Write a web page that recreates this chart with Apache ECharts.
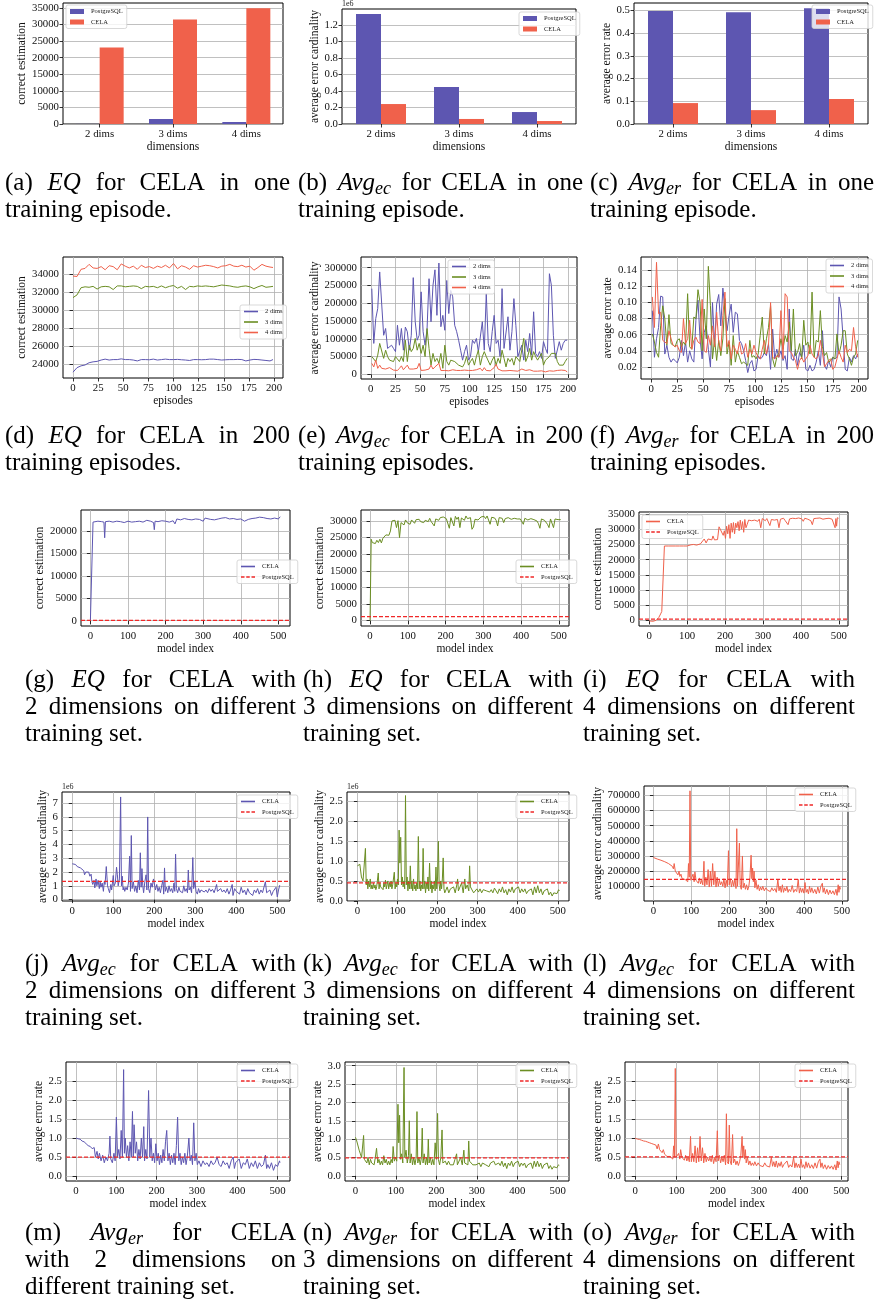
<!DOCTYPE html>
<html>
<head>
<meta charset="utf-8">
<script src="https://cdn.jsdelivr.net/npm/echarts@6/dist/echarts.min.js"></script>
<style>
  html, body { margin: 0; padding: 0; background: #fff; }
  #fig { width: 874px; height: 1301px; }
</style>
</head>
<body>
<div id="fig"></div>
<script>
// ---- data: one training episode (a-c) ----
const dims = ['2 dims', '3 dims', '4 dims'];
const eqPg = [30, 1500, 600];
const eqCela = [23100, 31500, 34900];
const ecPgM = [1.333, 0.448, 0.145];      // x 1e6
const ecCelaM = [0.242, 0.061, 0.036];    // x 1e6
const erPg = [0.497, 0.491, 0.509];
const erCela = [0.092, 0.061, 0.110];

// ---- 200 training episodes (d-f) ----
const epD = [0,4,8,12,16,20,24,28,32,36,40,44,48,52,56,60,64,68,72,76,80,84,88,92,96,100,104,108,112,116,120,124,128,132,136,140,144,148,152,156,160,164,168,172,176,180,184,188,192,196,199];
const dEq2 = [23100,23600,23800,23900,24150,24250,24300,24450,24550,24450,24500,24500,24580,24500,24500,24450,24350,24500,24500,24480,24550,24450,24500,24550,24500,24500,24520,24480,24450,24400,24500,24500,24480,24500,24550,24550,24500,24450,24480,24500,24500,24520,24500,24350,24450,24520,24500,24450,24400,24350,24500];
const dEq3 = [31400,31700,32500,32600,32550,32650,32350,32600,32650,32600,32300,32700,32700,32600,32650,32700,32650,32400,32650,32600,32650,32500,32700,32500,32650,32750,32450,32650,32300,32650,32600,32700,32650,32700,32650,32600,32700,32800,32750,32700,32600,32550,32650,32700,32600,32400,32600,32750,32550,32600,32650];
const dEq4 = [33800,33750,34550,34650,35100,34700,34650,34850,34500,34950,34850,34500,35150,34900,34700,34900,34550,35000,34750,34850,34650,34900,34750,35000,34700,35200,34600,34950,34800,34550,34950,34800,34900,35000,34950,34850,34700,34900,34950,35100,34900,34850,35000,34800,34900,34450,34750,35100,34900,34800,34750];

// episodes 1,3,5,...,199 for (e) and (f)
const epOdd = [];
for (let i = 0; i < 100; i++) epOdd.push(2 * i + 1);
const eEc2k = [241,87,157,185,288,286,110,129,73,78,82,73,64,138,82,129,68,133,120,68,110,272,148,96,110,232,120,82,129,269,148,250,294,166,313,134,166,124,264,171,236,218,138,120,96,68,40,64,82,40,50,96,87,101,64,59,148,68,227,87,64,120,166,87,96,50,241,73,78,162,68,120,213,138,50,45,82,40,96,64,115,54,176,59,50,64,45,92,73,59,283,250,110,45,50,92,68,87,96,96];
const eEc3k = [50,45,36,54,87,82,45,68,50,40,40,36,50,45,36,50,36,96,36,82,64,73,101,68,87,59,82,50,129,73,26,59,36,45,31,59,17,82,36,26,40,40,36,31,26,21,21,31,50,26,36,45,26,50,68,26,50,64,50,45,26,40,50,26,45,31,68,45,21,45,36,45,26,50,45,36,40,101,36,50,73,40,64,50,40,45,59,26,40,40,50,59,59,59,36,26,21,26,36,45];
const eEc4k = [31,21,40,17,26,17,21,15,17,19,15,12,13,11,17,24,13,17,26,15,13,15,12,17,31,11,13,12,17,15,26,15,21,19,31,11,10,11,13,10,11,13,9,11,9,11,10,12,10,11,9,11,10,13,10,17,10,19,11,13,10,13,19,28,15,11,10,13,10,9,11,13,10,11,9,10,15,10,11,9,13,8,9,7,9,11,10,15,7,11,10,13,9,13,11,10,12,17,11,7];
const fEr2 = [0.090,0.032,0.055,0.069,0.108,0.107,0.036,0.047,0.032,0.026,0.030,0.028,0.025,0.032,0.053,0.034,0.051,0.026,0.040,0.030,0.026,0.078,0.103,0.055,0.030,0.063,0.071,0.042,0.020,0.100,0.047,0.098,0.110,0.071,0.118,0.092,0.065,0.084,0.098,0.063,0.088,0.086,0.053,0.049,0.040,0.028,0.013,0.024,0.028,0.015,0.017,0.034,0.030,0.032,0.038,0.034,0.049,0.017,0.067,0.030,0.042,0.032,0.040,0.028,0.034,0.017,0.092,0.030,0.028,0.042,0.022,0.038,0.032,0.047,0.017,0.015,0.022,0.015,0.017,0.026,0.040,0.022,0.065,0.022,0.017,0.028,0.020,0.032,0.030,0.032,0.107,0.092,0.055,0.017,0.015,0.032,0.026,0.034,0.030,0.036];
const fEr3 = [0.061,0.051,0.038,0.032,0.071,0.096,0.080,0.047,0.085,0.049,0.047,0.045,0.053,0.055,0.045,0.051,0.047,0.111,0.045,0.042,0.082,0.080,0.116,0.100,0.040,0.092,0.055,0.145,0.096,0.030,0.055,0.028,0.053,0.034,0.055,0.105,0.036,0.051,0.022,0.059,0.026,0.040,0.032,0.024,0.026,0.024,0.022,0.053,0.032,0.034,0.030,0.036,0.059,0.082,0.036,0.055,0.069,0.096,0.030,0.020,0.032,0.038,0.055,0.042,0.059,0.051,0.076,0.040,0.092,0.034,0.038,0.049,0.030,0.078,0.047,0.051,0.036,0.113,0.032,0.053,0.051,0.090,0.045,0.034,0.038,0.026,0.028,0.032,0.030,0.061,0.036,0.047,0.065,0.065,0.036,0.030,0.022,0.032,0.036,0.053];
const fEr4 = [0.107,0.069,0.150,0.086,0.088,0.053,0.051,0.049,0.065,0.055,0.047,0.045,0.047,0.040,0.038,0.080,0.049,0.055,0.078,0.042,0.053,0.057,0.051,0.049,0.104,0.040,0.038,0.059,0.047,0.071,0.045,0.088,0.051,0.040,0.084,0.113,0.045,0.053,0.030,0.047,0.042,0.036,0.051,0.036,0.038,0.049,0.032,0.042,0.036,0.047,0.038,0.032,0.030,0.042,0.053,0.036,0.047,0.100,0.032,0.030,0.034,0.032,0.090,0.030,0.111,0.107,0.040,0.038,0.032,0.028,0.017,0.028,0.032,0.026,0.030,0.034,0.047,0.036,0.032,0.030,0.034,0.053,0.038,0.020,0.024,0.028,0.030,0.017,0.020,0.030,0.040,0.032,0.026,0.047,0.038,0.042,0.040,0.069,0.045,0.032];

// ---- different training sets: [model index, value] ----
const gEq = [[0,0],[5,0],[7,22000],[10,22100],[20,22200],[30,22100],[36,22000],[38,18500],[40,22100],[50,22200],[60,22000],[70,22200],[80,22100],[90,21900],[100,22200],[110,22000],[120,22100],[130,22200],[140,22000],[150,22400],[160,22200],[168,21900],[170,20300],[172,22200],[180,22100],[190,22300],[200,22200],[210,22000],[220,22300],[225,21600],[230,22700],[240,22500],[250,22800],[260,22600],[270,22500],[280,22700],[290,22600],[300,22200],[305,22900],[310,22700],[320,22600],[330,22500],[340,22700],[350,22900],[360,23000],[370,22700],[380,22800],[390,22600],[400,22700],[410,22200],[420,22600],[430,22800],[440,22900],[450,23100],[460,23000],[470,22800],[480,22700],[490,22900],[500,22700],[505,23200],[506,23200]];
const hEq = [[0,0],[3,24500],[6,23500],[10,24000],[14,23200],[18,24200],[22,23500],[26,24500],[30,23400],[34,24800],[38,24300],[42,25800],[46,26000],[50,25700],[54,27000],[58,30000],[62,29800],[66,30200],[70,28000],[74,30100],[78,25000],[82,29500],[86,30000],[90,28800],[94,30300],[98,29500],[102,30000],[106,29000],[110,30300],[114,30000],[118,29300],[122,30400],[126,30100],[130,30500],[134,29800],[138,30300],[142,29500],[146,30200],[150,30500],[154,29800],[158,30800],[162,29800],[166,30400],[170,28500],[174,30600],[178,30700],[182,30200],[186,31000],[190,30600],[194,31200],[198,31300],[202,30700],[206,31300],[210,27800],[214,31000],[218,30600],[222,28500],[226,31400],[230,30500],[234,31200],[238,28000],[242,30900],[246,31300],[250,30200],[254,31500],[258,30700],[262,30800],[266,31000],[270,27500],[274,28200],[278,30500],[282,30700],[286,30300],[290,30900],[294,31200],[298,31600],[302,31400],[306,30700],[310,31500],[314,31600],[318,29000],[322,31100],[326,30800],[330,30900],[334,30200],[338,28500],[342,31000],[346,30500],[350,30800],[354,29500],[358,30700],[362,30900],[366,31000],[370,30600],[374,30500],[378,30900],[382,30800],[386,31000],[390,30600],[394,31200],[398,30600],[402,30400],[406,29000],[410,30800],[414,30600],[418,30300],[422,30500],[426,30700],[430,30600],[434,30400],[438,30500],[442,30000],[446,29200],[450,27800],[454,30600],[458,30900],[462,30200],[466,30400],[470,29000],[474,28000],[478,30600],[482,30900],[486,28000],[490,30600],[494,30500],[498,30400],[502,30300],[505,30400]];
const iEq = [[0,-100],[5,-150],[10,-200],[15,-100],[18,100],[20,200],[23,500],[25,1000],[28,1500],[30,2200],[33,3000],[35,3300],[38,3300],[40,24500],[50,24500],[60,24500],[70,24500],[80,24500],[90,24500],[100,24500],[105,24700],[110,24900],[113,25300],[117,25000],[120,25200],[125,24800],[130,25300],[135,25200],[140,25400],[145,26800],[150,25500],[155,26800],[160,27200],[165,26500],[168,27800],[172,26500],[176,26500],[180,26600],[184,30800],[188,29800],[192,30000],[195,28000],[198,29500],[201,27000],[204,31000],[207,28500],[210,31500],[213,27000],[216,32000],[219,29000],[222,32200],[225,28500],[228,32000],[231,30500],[234,32500],[237,29500],[240,33000],[243,30000],[246,32500],[249,29000],[252,33200],[255,30500],[258,31500],[262,33000],[266,33500],[270,32800],[274,33300],[278,33000],[282,33400],[286,32600],[290,33300],[294,30500],[298,33500],[302,33300],[306,32800],[310,33500],[314,33000],[318,31200],[322,33200],[326,33400],[330,33000],[334,33500],[338,33200],[342,30500],[346,33300],[350,33100],[354,33600],[358,32900],[362,33300],[366,31500],[370,33400],[374,33200],[378,33600],[382,33100],[386,33500],[390,33200],[394,33700],[398,33300],[402,33400],[406,32600],[410,33600],[414,33100],[418,33300],[422,33500],[426,32800],[430,31500],[434,33500],[438,33300],[442,33600],[446,33200],[450,33700],[454,33400],[458,33300],[462,33700],[466,33500],[470,33200],[474,33600],[478,33400],[482,33300],[486,33600],[490,30500],[492,33500],[494,31000],[496,33800],[499,33600]];
const jEcM = [[0,2.6],[4,2.58],[8,2.55],[12,2.4],[16,2.45],[20,2.3],[24,2.2],[28,2.1],[30,1.8],[33,2.0],[36,1.9],[40,2.0],[43,1.7],[46,1.85],[48,1.3],[50,1.1],[53,1.4],[55,0.85],[58,1.5],[60,1.0],[63,1.4],[66,0.8],[68,1.3],[70,0.9],[73,1.2],[76,0.6],[78,1.3],[80,1.1],[83,2.4],[86,1.0],[88,0.8],[91,0.5],[94,1.1],[96,0.7],[98,1.2],[100,1.75],[102,1.0],[105,1.2],[108,2.35],[110,1.8],[112,1.0],[115,1.5],[118,7.45],[120,1.0],[122,1.7],[124,0.7],[126,0.9],[128,0.6],[131,0.9],[134,0.7],[137,1.2],[140,3.15],[142,0.6],[144,4.65],[146,0.8],[149,1.3],[152,0.6],[155,1.0],[158,0.5],[161,1.4],[164,0.7],[166,3.4],[168,0.9],[170,2.25],[172,1.0],[174,0.5],[177,1.3],[180,1.8],[182,0.7],[184,6.0],[186,0.8],[189,0.5],[192,1.2],[195,0.9],[198,1.5],[200,1.55],[203,0.7],[206,1.1],[209,0.6],[212,0.9],[215,0.5],[218,1.0],[221,1.4],[223,0.4],[225,2.3],[227,0.6],[230,0.9],[233,0.5],[236,1.0],[239,0.6],[242,0.8],[245,0.5],[248,1.2],[250,0.6],[252,3.3],[254,0.8],[257,0.5],[260,0.9],[263,0.6],[266,0.7],[269,0.5],[272,1.0],[275,0.6],[278,0.8],[281,0.5],[283,2.15],[285,0.7],[288,0.9],[291,0.5],[294,3.05],[296,0.8],[299,1.3],[302,0.6],[305,0.4],[308,0.8],[311,0.5],[314,0.7],[318,0.6],[322,0.55],[326,0.7],[330,0.5],[334,0.8],[338,0.6],[342,0.75],[346,0.5],[350,0.9],[352,1.1],[354,0.6],[358,0.5],[362,0.8],[366,0.55],[370,0.7],[374,0.5],[378,0.8],[382,0.4],[386,0.7],[390,1.1],[392,0.3],[396,0.8],[400,0.6],[404,0.7],[408,0.4],[412,0.9],[416,0.5],[420,0.7],[424,0.35],[428,0.8],[432,0.5],[436,0.6],[440,0.3],[444,0.7],[448,0.5],[452,0.8],[456,0.4],[460,0.7],[464,0.5],[468,0.6],[471,1.3],[474,0.5],[478,0.4],[482,0.7],[486,0.3],[490,0.6],[494,0.5],[497,0.9],[500,0.2],[503,0.7],[506,1.05]];
const kEcM = [[0,0.88],[2,0.85],[4,0.83],[6,0.92],[8,0.9],[10,0.6],[12,0.62],[14,0.5],[16,0.45],[18,0.55],[20,1.32],[22,0.4],[24,0.55],[26,0.3],[28,0.5],[30,0.35],[32,0.55],[34,0.3],[36,0.4],[38,0.3],[40,0.45],[42,0.32],[44,0.4],[46,0.28],[48,0.35],[50,0.4],[52,0.7],[54,0.3],[56,0.45],[58,0.35],[60,0.3],[62,0.4],[64,0.28],[66,0.45],[68,0.35],[70,0.52],[72,0.3],[74,0.4],[76,0.5],[78,0.3],[80,0.45],[82,0.35],[84,0.5],[86,0.3],[88,0.4],[90,0.35],[92,0.72],[94,0.3],[96,0.45],[98,0.35],[100,0.55],[102,0.4],[104,1.78],[106,0.95],[108,1.6],[110,0.4],[112,0.6],[114,0.35],[116,0.5],[118,0.3],[120,2.65],[122,0.4],[124,0.6],[126,0.25],[128,0.5],[130,0.3],[132,0.88],[134,0.3],[136,0.5],[138,0.25],[140,0.55],[142,0.3],[144,0.4],[146,0.25],[148,0.45],[150,0.3],[152,1.62],[154,0.3],[156,0.5],[158,0.25],[160,0.4],[162,0.3],[164,1.32],[166,0.3],[168,0.5],[170,0.2],[172,0.45],[174,0.3],[176,0.6],[178,0.25],[180,0.95],[182,0.3],[184,0.5],[186,0.2],[188,0.4],[190,0.3],[192,0.5],[194,0.25],[196,0.85],[198,0.3],[200,0.6],[202,1.5],[204,0.4],[206,0.25],[208,0.5],[210,0.3],[212,0.55],[214,1.08],[216,0.3],[218,0.2],[220,0.25],[224,0.35],[228,0.2],[232,0.3],[236,0.25],[240,0.35],[244,0.2],[248,0.4],[250,0.55],[252,0.25],[256,0.3],[260,0.45],[264,0.2],[268,0.55],[270,0.3],[274,0.4],[278,0.25],[280,0.88],[282,0.35],[286,0.3],[290,0.2],[294,0.25],[298,0.3],[302,0.22],[306,0.3],[310,0.2],[314,0.28],[318,0.32],[322,0.25],[326,0.3],[330,0.22],[334,0.28],[338,0.2],[342,0.32],[346,0.25],[350,0.18],[354,0.3],[358,0.22],[362,0.35],[366,0.2],[370,0.28],[374,0.15],[378,0.3],[382,0.22],[386,0.35],[390,0.2],[394,0.3],[398,0.25],[402,0.35],[406,0.2],[410,0.3],[414,0.22],[418,0.3],[422,0.18],[426,0.25],[430,0.2],[434,0.3],[438,0.15],[442,0.35],[446,0.2],[450,0.38],[454,0.2],[458,0.3],[462,0.15],[466,0.25],[470,0.2],[474,0.3],[478,0.15],[482,0.22],[486,0.12],[490,0.2],[494,0.25],[498,0.18],[502,0.28],[504,0.25]];
const lEc = [[0,290000],[5,285000],[10,280000],[15,278000],[20,272000],[25,268000],[30,262000],[35,258000],[40,250000],[45,240000],[50,232000],[53,215000],[55,250000],[58,200000],[62,210000],[65,175000],[68,200000],[70,165000],[73,180000],[76,150000],[80,140000],[84,145000],[88,150000],[91,130000],[93,250000],[95,160000],[97,730000],[99,140000],[102,130000],[105,180000],[108,130000],[110,195000],[113,140000],[116,150000],[119,120000],[122,155000],[125,115000],[128,140000],[131,110000],[134,265000],[136,100000],[139,160000],[142,110000],[145,210000],[148,95000],[151,200000],[154,100000],[157,250000],[160,110000],[163,200000],[166,95000],[169,160000],[172,100000],[175,140000],[178,110000],[181,130000],[184,100000],[187,150000],[190,90000],[193,140000],[196,100000],[199,335000],[201,110000],[204,150000],[207,95000],[210,140000],[213,100000],[216,150000],[219,85000],[221,480000],[223,100000],[226,90000],[228,385000],[230,110000],[233,80000],[236,300000],[238,90000],[241,120000],[244,80000],[247,110000],[250,75000],[253,100000],[256,160000],[259,305000],[261,150000],[263,220000],[265,130000],[267,200000],[269,90000],[272,140000],[275,80000],[278,110000],[281,70000],[284,95000],[287,75000],[290,100000],[294,70000],[298,90000],[302,75000],[306,80000],[310,65000],[314,90000],[318,70000],[322,85000],[326,60000],[330,145000],[333,70000],[336,100000],[339,60000],[342,110000],[345,60000],[348,90000],[351,70000],[354,100000],[357,60000],[360,80000],[364,65000],[368,105000],[372,60000],[376,80000],[380,65000],[384,145000],[387,55000],[390,90000],[393,60000],[396,85000],[399,55000],[402,125000],[405,60000],[408,80000],[411,50000],[414,100000],[417,60000],[420,90000],[424,55000],[428,80000],[432,50000],[436,95000],[440,55000],[444,100000],[448,120000],[450,60000],[453,90000],[456,50000],[460,80000],[464,45000],[468,75000],[472,50000],[476,70000],[480,45000],[484,80000],[487,40000],[490,110000],[492,60000],[494,100000],[496,80000]];
const mEr = [[0,1.0],[5,0.98],[10,0.97],[15,0.92],[20,0.9],[25,0.85],[30,0.8],[35,0.78],[40,0.72],[45,0.75],[48,0.5],[52,0.65],[55,0.45],[58,0.6],[62,0.4],[66,0.55],[70,0.35],[74,0.5],[78,0.4],[82,0.6],[84,1.05],[86,0.45],[90,0.35],[94,0.6],[97,0.4],[100,1.55],[103,0.5],[106,0.7],[109,0.45],[112,1.2],[115,0.5],[118,2.8],[120,0.6],[122,1.0],[125,0.5],[128,0.8],[131,0.4],[134,0.9],[137,0.5],[140,1.7],[142,0.5],[144,1.35],[147,0.6],[150,0.9],[153,0.4],[156,0.7],[159,0.45],[162,1.0],[165,0.5],[168,1.3],[170,0.4],[173,0.7],[176,0.45],[180,2.25],[183,0.5],[186,1.0],[189,0.4],[192,0.6],[195,0.35],[198,0.85],[201,0.4],[204,0.6],[207,0.3],[210,0.55],[213,0.35],[216,0.7],[219,0.4],[222,0.9],[225,1.2],[228,0.4],[231,0.6],[234,0.3],[237,0.55],[240,0.35],[243,0.6],[246,0.3],[249,0.8],[252,1.55],[255,0.4],[258,0.6],[261,0.3],[264,0.5],[267,0.35],[270,0.6],[273,0.3],[276,0.5],[280,1.0],[283,0.4],[286,0.55],[289,0.3],[292,1.4],[295,0.4],[298,0.6],[301,0.3],[305,0.4],[310,0.25],[315,0.4],[320,0.3],[325,0.35],[330,0.25],[335,0.4],[340,0.3],[345,0.35],[350,0.5],[355,0.3],[360,0.25],[365,0.4],[370,0.3],[375,0.35],[380,0.2],[385,0.4],[390,0.5],[393,0.2],[396,0.35],[400,0.3],[405,0.45],[410,0.2],[415,0.35],[420,0.3],[425,0.45],[430,0.2],[435,0.35],[440,0.25],[445,0.4],[450,0.2],[455,0.35],[460,0.25],[465,0.3],[470,0.55],[473,0.2],[476,0.3],[480,0.2],[485,0.35],[490,0.15],[495,0.3],[500,0.25],[505,0.4],[506,0.35]];
const nEr = [[0,1.05],[3,0.95],[6,1.0],[9,0.7],[12,0.6],[15,0.5],[18,0.55],[20,1.1],[22,0.45],[25,0.5],[28,0.35],[31,0.5],[34,0.3],[37,0.45],[40,0.35],[43,0.4],[46,0.3],[49,0.5],[52,0.75],[55,0.35],[58,0.45],[61,0.3],[64,0.4],[67,0.3],[70,0.55],[73,0.35],[76,0.45],[79,0.3],[82,0.4],[85,0.3],[88,0.45],[91,0.35],[93,0.8],[96,0.4],[99,0.5],[102,0.4],[105,1.95],[107,0.9],[109,1.65],[111,0.45],[114,0.6],[117,0.35],[120,2.95],[122,0.5],[125,0.7],[128,0.35],[131,0.55],[133,1.5],[135,0.35],[138,0.6],[141,0.3],[144,0.5],[147,0.3],[150,0.5],[152,1.75],[154,0.35],[157,0.5],[160,0.3],[163,0.5],[165,1.3],[167,0.35],[170,0.6],[173,0.3],[176,0.5],[178,0.3],[180,1.0],[182,0.35],[185,0.5],[188,0.3],[191,0.45],[194,0.3],[197,0.9],[200,0.45],[203,1.7],[205,0.45],[208,0.3],[211,0.5],[214,1.25],[216,0.35],[219,0.3],[222,0.4],[226,0.3],[230,0.4],[234,0.3],[238,0.35],[242,0.3],[246,0.45],[250,0.6],[252,0.3],[256,0.35],[260,0.5],[264,0.3],[268,0.7],[270,0.35],[274,0.4],[278,0.3],[280,0.95],[282,0.4],[286,0.35],[290,0.3],[294,0.35],[298,0.3],[302,0.28],[306,0.35],[310,0.25],[314,0.35],[318,0.4],[322,0.3],[326,0.35],[330,0.25],[334,0.35],[338,0.3],[342,0.4],[346,0.3],[350,0.25],[354,0.35],[358,0.28],[362,0.4],[366,0.25],[370,0.35],[374,0.2],[378,0.35],[382,0.28],[386,0.4],[390,0.25],[394,0.35],[398,0.3],[402,0.4],[406,0.25],[410,0.35],[414,0.28],[418,0.35],[422,0.22],[426,0.3],[430,0.25],[434,0.35],[438,0.2],[442,0.4],[446,0.25],[450,0.4],[454,0.25],[458,0.35],[462,0.2],[466,0.3],[470,0.25],[474,0.35],[478,0.2],[482,0.28],[486,0.18],[490,0.25],[494,0.3],[498,0.22],[502,0.3],[504,0.28]];
const oEr = [[0,1.0],[5,0.98],[10,0.97],[15,0.95],[20,0.93],[25,0.92],[30,0.9],[35,0.88],[40,0.86],[45,0.84],[50,0.82],[53,0.72],[56,0.85],[59,0.7],[62,0.75],[65,0.62],[68,0.7],[71,0.58],[74,0.62],[77,0.52],[80,0.5],[84,0.52],[88,0.5],[91,0.45],[93,0.8],[95,0.5],[97,2.85],[99,0.5],[102,0.48],[105,0.6],[108,0.45],[110,0.7],[113,0.5],[116,0.55],[119,0.42],[122,0.55],[125,0.4],[128,0.5],[131,0.38],[134,1.05],[136,0.38],[139,0.6],[142,0.38],[145,0.8],[148,0.35],[151,0.75],[154,0.38],[157,1.05],[160,0.4],[163,0.75],[166,0.35],[169,0.6],[172,0.38],[175,0.5],[178,0.4],[181,0.48],[184,0.38],[187,0.55],[190,0.33],[193,0.5],[196,0.38],[199,1.2],[201,0.4],[204,0.55],[207,0.35],[210,0.5],[213,0.38],[216,0.55],[219,0.3],[221,1.65],[223,0.38],[226,0.32],[228,1.35],[230,0.4],[233,0.3],[236,1.1],[238,0.35],[241,0.45],[244,0.3],[247,0.4],[250,0.28],[253,0.38],[256,0.55],[259,1.05],[261,0.5],[263,0.8],[265,0.45],[267,0.7],[269,0.35],[272,0.5],[275,0.3],[278,0.4],[281,0.28],[284,0.35],[287,0.28],[290,0.38],[294,0.27],[298,0.35],[302,0.28],[306,0.3],[310,0.25],[314,0.35],[318,0.27],[322,0.32],[326,0.24],[330,0.5],[333,0.26],[336,0.38],[339,0.24],[342,0.4],[345,0.23],[348,0.35],[351,0.26],[354,0.38],[357,0.23],[360,0.3],[364,0.25],[368,0.4],[372,0.23],[376,0.3],[380,0.24],[384,0.5],[387,0.22],[390,0.35],[393,0.23],[396,0.32],[399,0.22],[402,0.45],[405,0.23],[408,0.3],[411,0.2],[414,0.38],[417,0.23],[420,0.35],[424,0.21],[428,0.3],[432,0.2],[436,0.35],[440,0.21],[444,0.38],[448,0.45],[450,0.23],[453,0.35],[456,0.2],[460,0.3],[464,0.18],[468,0.28],[472,0.2],[476,0.27],[480,0.18],[484,0.3],[487,0.16],[490,0.4],[492,0.22],[494,0.38],[496,0.3]];
// PostgreSQL reference levels for (g)-(o)
const pgLevel = { g: 50, h: 1200, i: 500, j: 1.33, k: 0.45, l: 145000, m: 0.497, n: 0.491, o: 0.509 };

// ---- drawing ----
const FONT = '"Liberation Serif", "Times New Roman", serif';
const BLUE = '#5d56b1', RED = '#f0614b', GREEN = '#6b8e23', PGRED = '#f02828';
const ICON_SOLID = 'path://M0,0H20V1.6H0Z';
const ICON_DASH = 'path://M0,0H5V1.6H0Z M7.5,0H12.5V1.6H7.5Z M15,0H20V1.6H15Z';
const grids = [], xAxes = [], yAxes = [], series = [], legends = [], graphics = [];

function ticks(a, b, step) {
  const t = [];
  for (let v = a; v <= b + step * 1e-6; v += step) t.push(+v.toFixed(6));
  return t;
}
function baseAxis(gi, name, gap) {
  return {
    gridIndex: gi, name: name, nameLocation: 'middle', nameGap: gap,
    nameTextStyle: { fontFamily: FONT, fontSize: 11.5, color: '#111' },
    axisLine: { show: false },
    axisTick: { show: true, length: 3.5, lineStyle: { color: '#000', width: 0.8 } },
    axisLabel: { fontFamily: FONT, fontSize: 10.8, color: '#111', margin: 4 },
    splitLine: { show: true, lineStyle: { color: '#b0b0b0', width: 0.8 } }
  };
}
function valueAxis(gi, lim, tk, fmt, name, gap, grid) {
  const a = baseAxis(gi, name, gap);
  a.type = 'value'; a.min = lim[0]; a.max = lim[1];
  a.axisTick.customValues = tk;
  a.axisLabel.customValues = tk;
  a.axisLabel.formatter = fmt;
  a.splitLine.show = grid;
  return a;
}
function addGrid(box) {
  grids.push({ left: box[0], top: box[1], width: box[2] - box[0], height: box[3] - box[1],
    show: true, borderColor: '#000', borderWidth: 1, backgroundColor: '#fff' });
  return grids.length - 1;
}
function addLegend(items, pos, h) {
  legends.push(Object.assign({
    data: items, orient: 'vertical', itemWidth: 14, itemHeight: h, itemGap: 3.5,
    symbolKeepAspect: false,
    padding: [3, 4, 3, 4], borderColor: '#cfcfcf', borderWidth: 0.8, borderRadius: 2,
    backgroundColor: 'rgba(255,255,255,0.8)', selectedMode: false,
    formatter: n => n.split('|')[0],
    textStyle: { fontFamily: FONT, fontSize: 6.5, color: '#222', padding: [0, 0, 0, 2] }
  }, pos));
}
function offsetText(box, txt) {
  graphics.push({ type: 'text', x: box[0], y: box[1] - 1, silent: true,
    style: { text: txt, font: '8px ' + FONT, fill: '#222', verticalAlign: 'bottom', textVerticalAlign: 'bottom' } });
}

function barPanel(c) {
  const gi = addGrid(c.box);
  xAxes.push(Object.assign(baseAxis(gi, 'dimensions', c.xgap), {
    type: 'category', data: dims, boundaryGap: true,
    axisTick: { show: true, alignWithLabel: true, length: 3.5, lineStyle: { color: '#000', width: 0.8 } },
    splitLine: { show: false }
  }));
  xAxes[xAxes.length - 1].axisLabel.margin = 5;
  yAxes.push(valueAxis(gi, c.ylim, c.yticks, c.yfmt, c.yname, c.ygap, true));
  const k = c.key;
  series.push({ name: 'PostgreSQL|' + k, type: 'bar', xAxisIndex: gi, yAxisIndex: gi, data: c.pg,
    barWidth: c.bw, barGap: '0%', itemStyle: { color: BLUE } });
  series.push({ name: 'CELA|' + k, type: 'bar', xAxisIndex: gi, yAxisIndex: gi, data: c.cela,
    barWidth: c.bw, barGap: '0%', itemStyle: { color: RED } });
  addLegend([{ name: 'PostgreSQL|' + k, icon: 'rect' }, { name: 'CELA|' + k, icon: 'rect' }], c.legend, 5);
  if (c.offset) offsetText(c.box, c.offset);
}

function linePanel(c) {
  const gi = addGrid(c.box);
  xAxes.push(valueAxis(gi, c.xlim, c.xticks, v => String(v), c.xname, c.xgap, true));
  xAxes[xAxes.length - 1].axisLabel.margin = 5;
  yAxes.push(valueAxis(gi, c.ylim, c.yticks, c.yfmt, c.yname, c.ygap, true));
  const items = [];
  c.lines.forEach(l => {
    const nm = l.name + '|' + c.key;
    items.push({ name: nm, icon: ICON_SOLID });
    series.push({ name: nm, type: 'line', xAxisIndex: gi, yAxisIndex: gi, data: l.data,
      symbol: 'none', showSymbol: false, clip: true,
      lineStyle: { color: l.color, width: 1 }, itemStyle: { color: l.color } });
  });
  if (c.pg !== undefined) {
    // horizontal reference level spanning the whole axis (like axhline)
    const nm = 'PostgreSQL|' + c.key;
    items.push({ name: nm, icon: ICON_DASH });
    series.push({ name: nm, type: 'line', xAxisIndex: gi, yAxisIndex: gi,
      data: [[c.xlim[0], c.pg], [c.xlim[1], c.pg]],
      symbol: 'none', showSymbol: false, clip: true, z: 3,
      lineStyle: { color: PGRED, width: 1.2, type: [4, 2] }, itemStyle: { color: PGRED } });
  }
  addLegend(items, c.legend, 1.6);
  if (c.offset) offsetText(c.box, c.offset);
}

const zip = (xs, ys) => ys.map((y, i) => [xs[i], y]);
const f1 = v => v.toFixed(1), f2 = v => v.toFixed(2), fi = v => String(Math.round(v));

// (a)-(c)
barPanel({ key: 'a', box: [63, 3, 283, 124], ylim: [0, 36500], yticks: ticks(0, 35000, 5000), yfmt: fi,
  yname: 'correct estimation', ygap: 33, xgap: 16, bw: 24, pg: eqPg, cela: eqCela,
  legend: { left: 66, top: 5 } });
barPanel({ key: 'b', box: [342, 9, 576, 124], ylim: [0, 1.394], yticks: ticks(0, 1.2, 0.2), yfmt: f1,
  yname: 'average error cardinality', ygap: 18, xgap: 16, bw: 25, pg: ecPgM, cela: ecCelaM,
  legend: { left: 519, top: 12 }, offset: '1e6' });
barPanel({ key: 'c', box: [634, 3, 868, 124], ylim: [0, 0.532], yticks: ticks(0, 0.5, 0.1), yfmt: f1,
  yname: 'average error rate', ygap: 19, xgap: 16, bw: 25, pg: erPg, cela: erCela,
  legend: { left: 812, top: 5 } });

// (d)-(f)
const epLim = [-9.95, 208.95], epTicks = ticks(0, 200, 25);
linePanel({ key: 'd', box: [63, 257, 283, 378], xlim: epLim, xticks: epTicks, xname: 'episodes', xgap: 15,
  ylim: [22450, 35920], yticks: ticks(24000, 34000, 2000), yfmt: fi, yname: 'correct estimation', ygap: 32,
  lines: [{ name: '2 dims', data: zip(epD, dEq2), color: BLUE }, { name: '3 dims', data: zip(epD, dEq3), color: GREEN },
          { name: '4 dims', data: zip(epD, dEq4), color: RED }],
  legend: { left: 240, top: 305 } });
linePanel({ key: 'e', box: [361, 257, 577, 379], xlim: epLim, xticks: epTicks, xname: 'episodes', xgap: 15,
  ylim: [-13, 330], yticks: ticks(0, 300, 50), yfmt: v => fi(v * 1000), yname: 'average error cardinality', ygap: 36,
  lines: [{ name: '2 dims', data: zip(epOdd, eEc2k), color: BLUE }, { name: '3 dims', data: zip(epOdd, eEc3k), color: GREEN },
          { name: '4 dims', data: zip(epOdd, eEc4k), color: RED }],
  legend: { left: 448, top: 260 } });
linePanel({ key: 'f', box: [641, 257, 868, 379], xlim: epLim, xticks: epTicks, xname: 'episodes', xgap: 15,
  ylim: [0.005, 0.1566], yticks: ticks(0.02, 0.14, 0.02), yfmt: f2, yname: 'average error rate', ygap: 25,
  lines: [{ name: '2 dims', data: zip(epOdd, fEr2), color: BLUE }, { name: '3 dims', data: zip(epOdd, fEr3), color: GREEN },
          { name: '4 dims', data: zip(epOdd, fEr4), color: RED }],
  legend: { left: 826, top: 259 } });

// (g)-(i)
const idxTicks = ticks(0, 500, 100);
linePanel({ key: 'g', box: [81, 510, 290, 626], xlim: [-25, 531], xticks: idxTicks, xname: 'model index', xgap: 14,
  ylim: [-1190, 24700], yticks: ticks(0, 20000, 5000), yfmt: fi, yname: 'correct estimation', ygap: 30,
  lines: [{ name: 'CELA', data: gEq, color: BLUE }], pg: pgLevel.g, legend: { left: 237, top: 560 } });
linePanel({ key: 'h', box: [361, 510, 569, 626], xlim: [-24, 527], xticks: idxTicks, xname: 'model index', xgap: 14,
  ylim: [-1610, 33300], yticks: ticks(0, 30000, 5000), yfmt: fi, yname: 'correct estimation', ygap: 31,
  lines: [{ name: 'CELA', data: hEq, color: GREEN }], pg: pgLevel.h, legend: { left: 516, top: 560 } });
linePanel({ key: 'i', box: [639, 512, 848, 626], xlim: [-27, 524], xticks: idxTicks, xname: 'model index', xgap: 14,
  ylim: [-1760, 35660], yticks: ticks(0, 35000, 5000), yfmt: fi, yname: 'correct estimation', ygap: 30,
  lines: [{ name: 'CELA', data: iEq, color: RED }], pg: pgLevel.i, legend: { left: 642, top: 515 } });

// (j)-(l)
linePanel({ key: 'j', box: [62, 792, 290, 901], xlim: [-25, 531], xticks: idxTicks, xname: 'model index', xgap: 14,
  ylim: [-0.1, 7.81], yticks: ticks(0, 7, 1), yfmt: fi, yname: 'average error cardinality', ygap: 12,
  lines: [{ name: 'CELA', data: jEcM, color: BLUE }], pg: pgLevel.j, legend: { left: 237, top: 795 }, offset: '1e6' });
linePanel({ key: 'k', box: [347, 792, 569, 901], xlim: [-26, 528], xticks: idxTicks, xname: 'model index', xgap: 14,
  ylim: [-0.005, 2.74], yticks: ticks(0, 2.5, 0.5), yfmt: f1, yname: 'average error cardinality', ygap: 18,
  lines: [{ name: 'CELA', data: kEcM, color: GREEN }], pg: pgLevel.k, legend: { left: 516, top: 795 }, offset: '1e6' });
linePanel({ key: 'l', box: [644, 786, 848, 901], xlim: [-25, 516], xticks: idxTicks, xname: 'model index', xgap: 14,
  ylim: [2870, 761800], yticks: ticks(100000, 700000, 100000), yfmt: fi, yname: 'average error cardinality', ygap: 35,
  lines: [{ name: 'CELA', data: lEc, color: RED }], pg: pgLevel.l, legend: { left: 795, top: 788 } });

// (m)-(o)
linePanel({ key: 'm', box: [66, 1062, 290, 1181], xlim: [-25, 531], xticks: idxTicks, xname: 'model index', xgap: 10,
  ylim: [-0.13, 3.0], yticks: ticks(0, 2.5, 0.5), yfmt: f1, yname: 'average error rate', ygap: 15,
  lines: [{ name: 'CELA', data: mEr, color: BLUE }], pg: pgLevel.m, legend: { left: 237, top: 1064 } });
linePanel({ key: 'n', box: [345, 1062, 569, 1181], xlim: [-26, 528], xticks: idxTicks, xname: 'model index', xgap: 10,
  ylim: [-0.14, 3.1], yticks: ticks(0, 3, 0.5), yfmt: f1, yname: 'average error rate', ygap: 16,
  lines: [{ name: 'CELA', data: nEr, color: GREEN }], pg: pgLevel.n, legend: { left: 516, top: 1064 } });
linePanel({ key: 'o', box: [625, 1062, 848, 1181], xlim: [-25, 516], xticks: idxTicks, xname: 'model index', xgap: 10,
  ylim: [-0.13, 3.02], yticks: ticks(0, 2.5, 0.5), yfmt: f1, yname: 'average error rate', ygap: 16,
  lines: [{ name: 'CELA', data: oEr, color: RED }], pg: pgLevel.o, legend: { left: 795, top: 1064 } });

// ---- captions (justified like the LaTeX subcaptions) ----
const CAP = 25;
const mctx = document.createElement('canvas').getContext('2d');
function capFont(kind) {
  if (kind === 'i') return 'italic ' + CAP + 'px ' + FONT;
  if (kind === 's') return 'italic ' + Math.round(CAP * 0.7) + 'px ' + FONT;
  return CAP + 'px ' + FONT;
}
function segW(seg) { mctx.font = capFont(seg[1]); return mctx.measureText(seg[0]).width; }
function parseWord(w) {
  if (w[0] !== '@') return [[w, 'n']];
  const p = w.slice(1).split('_');
  const r = [[p[0], 'i']];
  if (p[1]) r.push([p[1], 's']);
  return r;
}
function caption(x0, width, y0, lines) {
  lines.forEach((ln, li) => {
    const words = ln.split(' ').map(parseWord);
    const ws = words.map(w => w.reduce((s, g) => s + segW(g), 0));
    mctx.font = capFont('n');
    const sp = mctx.measureText(' ').width;
    const last = li === lines.length - 1;
    const gap = last ? sp : (width - ws.reduce((a, b) => a + b, 0)) / (words.length - 1);
    let x = x0;
    const y = y0 + li * 27;
    words.forEach((w, wi) => {
      let xx = x;
      w.forEach(g => {
        graphics.push({ type: 'text', x: xx, y: g[1] === 's' ? y + 6 : y, silent: true,
          style: { text: g[0], font: capFont(g[1]), fill: '#000', verticalAlign: 'middle', textVerticalAlign: 'middle' } });
        xx += segW(g);
      });
      x += ws[wi] + gap;
    });
  });
}
caption(5, 285, 183, ['(a) @EQ for CELA in one', 'training episode.']);
caption(298, 285, 183, ['(b) @Avg_ec for CELA in one', 'training episode.']);
caption(590, 284, 183, ['(c) @Avg_er for CELA in one', 'training episode.']);
caption(5, 285, 436, ['(d) @EQ for CELA in 200', 'training episodes.']);
caption(298, 285, 436, ['(e) @Avg_ec for CELA in 200', 'training episodes.']);
caption(590, 284, 436, ['(f) @Avg_er for CELA in 200', 'training episodes.']);
caption(25, 271, 680, ['(g) @EQ for CELA with', '2 dimensions on different', 'training set.']);
caption(303, 270, 680, ['(h) @EQ for CELA with', '3 dimensions on different', 'training set.']);
caption(583, 272, 680, ['(i) @EQ for CELA with', '4 dimensions on different', 'training set.']);
caption(25, 271, 964, ['(j) @Avg_ec for CELA with', '2 dimensions on different', 'training set.']);
caption(303, 270, 964, ['(k) @Avg_ec for CELA with', '3 dimensions on different', 'training set.']);
caption(583, 272, 964, ['(l) @Avg_ec for CELA with', '4 dimensions on different', 'training set.']);
caption(25, 271, 1233, ['(m) @Avg_er for CELA', 'with 2 dimensions on', 'different training set.']);
caption(303, 270, 1233, ['(n) @Avg_er for CELA with', '3 dimensions on different', 'training set.']);
caption(583, 272, 1233, ['(o) @Avg_er for CELA with', '4 dimensions on different', 'training set.']);

const chart = echarts.init(document.getElementById('fig'), null, { renderer: 'canvas' });
chart.setOption({
  animation: false,
  backgroundColor: '#fff',
  grid: grids, xAxis: xAxes, yAxis: yAxes, series: series, legend: legends,
  graphic: { elements: graphics }
});
</script>
</body>
</html>
